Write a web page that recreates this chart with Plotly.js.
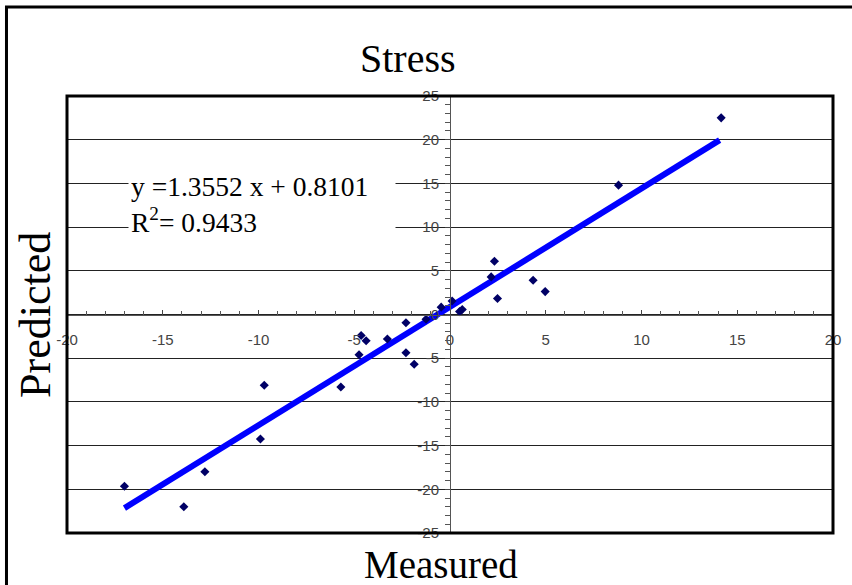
<!DOCTYPE html>
<html>
<head>
<meta charset="utf-8">
<script src="https://cdn.plot.ly/plotly-3.0.1.min.js"></script>
<style>html,body{margin:0;padding:0;background:#fff;}#chart{width:852px;height:585px;}</style>
</head>
<body>
<div id="chart"></div>
<script>
var measured = [-17.0, -13.9, -12.8, -9.9, -9.7, -5.7, -4.75, -4.64, -4.38, -3.27, -2.3, -2.3, -1.87, -1.25, -0.46, 0.11, 0.5, 0.64, 2.15, 2.32, 2.48, 4.34, 4.97, 8.8, 14.16];
var predicted = [-19.65, -22.0, -18.0, -14.25, -8.1, -8.3, -4.6, -2.4, -3.0, -2.8, -0.95, -4.37, -5.7, -0.55, 0.84, 1.55, 0.33, 0.57, 4.3, 6.1, 1.83, 3.92, 2.62, 14.8, 22.5];
var trendX = [-17.0, 14.08];
var trendY = [-22.15, 19.95];
var xTicks = [-20, -15, -10, -5, 0, 5, 10, 15, 20];
var yTicks = [-25, -20, -15, -10, -5, 0, 5, 10, 15, 20, 25];
var titleText = 'Stress';
var xTitle = 'Measured';
var yTitle = 'Predicted';
var eqText = 'y =1.3552 x + 0.8101<br>R<sup>2</sup>= 0.9433';

var serif = 'Liberation Serif, Times New Roman, serif';
var sans = 'Liberation Sans, Arial, sans-serif';

var traces = [
  {x: trendX, y: trendY, mode: 'lines', type: 'scatter',
   line: {color: '#0000ff', width: 6}, hoverinfo: 'skip'},
  {x: measured, y: predicted, mode: 'markers', type: 'scatter',
   marker: {symbol: 'diamond', size: 7, color: '#000066'}}
];

var layout = {
  width: 852, height: 585,
  margin: {l: 67, r: 19, t: 96, b: 52},
  paper_bgcolor: '#ffffff', plot_bgcolor: '#ffffff',
  showlegend: false,
  xaxis: {
    range: [-20, 20], anchor: 'free', position: 0.5,
    tickmode: 'array', tickvals: xTicks, ticktext: xTicks.map(String),
    showgrid: false, zeroline: false,
    showline: true, linecolor: '#555', linewidth: 1,
    ticks: 'inside', ticklen: 5, tickcolor: '#444', tickwidth: 1,
    minor: {dtick: 1, ticks: 'inside', ticklen: 4, tickcolor: '#555', showgrid: false},
    ticklabelstandoff: 11,
    tickfont: {family: sans, size: 15, color: '#444'}
  },
  yaxis: {
    range: [-25, 25], anchor: 'free', position: 0.5,
    tickmode: 'array', tickvals: yTicks, ticktext: yTicks.map(String),
    showgrid: true, gridcolor: '#222', gridwidth: 1,
    zeroline: false,
    showline: true, linecolor: '#555', linewidth: 1,
    ticks: 'outside', ticklen: 5, tickcolor: '#444', tickwidth: 1,
    minor: {dtick: 1, ticks: 'outside', ticklen: 5, tickcolor: '#555', showgrid: false},
    ticklabelstandoff: 3,
    tickfont: {family: sans, size: 15, color: '#444'}
  },
  shapes: [
    {type: 'rect', xref: 'paper', yref: 'paper', x0: 0, x1: 1, y0: 0, y1: 1,
     line: {color: '#000', width: 3}, layer: 'above'},
    {type: 'rect', xref: 'paper', yref: 'paper', x0: -0.079, x1: 1.06, y0: -0.2, y1: 1.2037,
     line: {color: '#000', width: 3}, layer: 'above'}
  ],
  annotations: [
    {text: titleText, xref: 'paper', yref: 'paper', x: 0.445, y: 1.085,
     xanchor: 'center', yanchor: 'middle', showarrow: false,
     font: {family: serif, size: 40, color: '#000'}},
    {text: xTitle, xref: 'paper', yref: 'paper', x: 0.488, y: -0.072,
     xanchor: 'center', yanchor: 'middle', showarrow: false,
     font: {family: serif, size: 39, color: '#000'}},
    {text: yTitle, xref: 'paper', yref: 'paper', x: -0.0405, y: 0.499,
     xanchor: 'center', yanchor: 'middle', showarrow: false, textangle: -90,
     font: {family: serif, size: 44, color: '#000'}},
    {text: eqText, xref: 'x', yref: 'y', x: -16.82, y: 12.6,
     xanchor: 'left', yanchor: 'middle', showarrow: false,
     align: 'left', width: 262, bgcolor: '#ffffff', borderpad: 2,
     font: {family: serif, size: 27.5, color: '#000'}}
  ]
};

Plotly.newPlot('chart', traces, layout, {displayModeBar: false, staticPlot: true});
</script>
</body>
</html>
